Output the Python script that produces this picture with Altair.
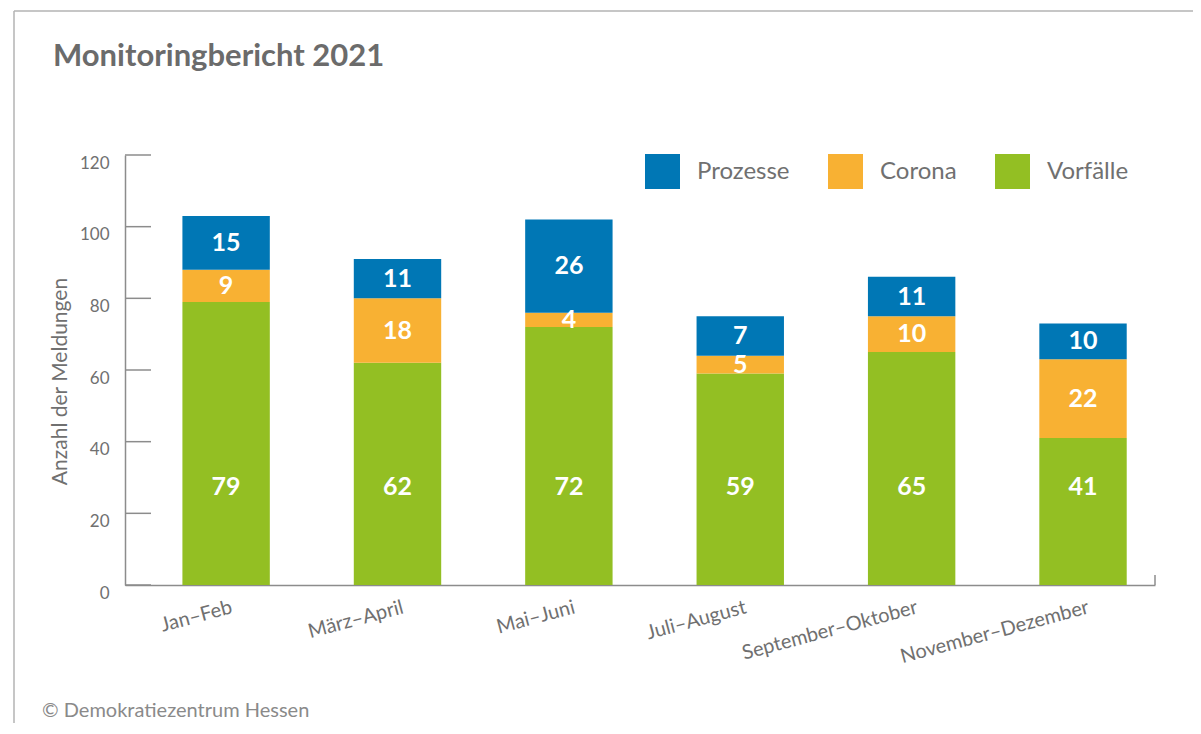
import altair as alt
import pandas as pd

# ---- data ----
periods = ["Jan–Feb", "März–April", "Mai–Juni", "Juli–August",
           "September–Oktober", "November–Dezember"]
vorfaelle = [79, 62, 72, 59, 65, 41]
corona = [9, 18, 4, 5, 10, 22]
prozesse = [15, 11, 26, 11, 11, 10]          # heights as drawn
prozesse_labels = ["15", "11", "26", "7", "11", "10"]  # numbers printed on the bars
vorfaelle_labels = [str(v) for v in vorfaelle]
corona_labels = [str(v) for v in corona]

legend_order = ["Prozesse", "Corona", "Vorfälle"]
colors = ["#0077b5", "#f8b133", "#93bf23"]
y_ticks = [0, 20, 40, 60, 80, 100, 120]

rows = []
for i, p in enumerate(periods):
    rows.append({"period": p, "category": "Vorfälle", "value": vorfaelle[i], "label": vorfaelle_labels[i], "order": 0})
    rows.append({"period": p, "category": "Corona", "value": corona[i], "label": corona_labels[i], "order": 1})
    rows.append({"period": p, "category": "Prozesse", "value": prozesse[i], "label": prozesse_labels[i], "order": 2})
df = pd.DataFrame(rows)
ticks_df = pd.DataFrame({"t": y_ticks})
one = pd.DataFrame({"k": [0]})

FONT = "Lato"
GRAY = "#707070"
AXIS_GRAY = "#8c8c8c"
W, H = 1030, 430

xscale = alt.Scale(paddingInner=0.49, paddingOuter=0.25, align=0.67)
xaxis = alt.Axis(title=None, ticks=False, domainColor=AXIS_GRAY, domainWidth=1.5,
                 labelAngle=-15, labelAlign="right", labelBaseline="top",
                 labelPadding=12, labelFontSize=20, labelColor=GRAY, labelFont=FONT,
                 labelLimit=400, labelOffset=3)
yscale = alt.Scale(domain=[0, 120], nice=False)
yaxis = alt.Axis(title="Anzahl der Meldungen", values=y_ticks, ticks=False, grid=False,
                 domainColor=AXIS_GRAY, domainWidth=1.5,
                 labelPadding=16, labelFontSize=17, labelColor=GRAY, labelFont=FONT,
                 labelOffset=8,
                 titleFontSize=21, titleFontWeight="normal", titleColor=GRAY, titleFont=FONT,
                 titleX=-65, titleY=226, titleAngle=270, titleAlign="center",
                 titleBaseline="middle")

x_enc = alt.X("period:N", sort=periods, scale=xscale, axis=xaxis)

bars = alt.Chart(df).mark_bar().encode(
    x=x_enc,
    y=alt.Y("value:Q", stack="zero", scale=yscale, axis=yaxis),
    color=alt.Color("category:N",
                    scale=alt.Scale(domain=legend_order, range=colors),
                    legend=alt.Legend(orient="none", legendX=520, legendY=-1,
                                      direction="horizontal", title=None,
                                      symbolType="square", symbolSize=1225,
                                      symbolStrokeWidth=0, symbolOpacity=1,
                                      labelFontSize=24, labelColor=GRAY, labelFont=FONT,
                                      labelOffset=17, columnPadding=38, padding=0)),
    order=alt.Order("order:Q"),
)

labels = alt.Chart(df).transform_stack(
    stack="value", groupby=["period"], as_=["y0", "y1"],
    sort=[alt.SortField("order", order="ascending")]
).transform_calculate(
    mid="datum.category == 'Vorfälle' ? 27.3 : (datum.y0 + datum.y1) / 2"
).mark_text(color="white", fontSize=25, fontWeight="bold", font=FONT,
            baseline="middle", align="center").encode(
    x=x_enc,
    y=alt.Y("mid:Q", scale=yscale, axis=yaxis),
    text="label:N",
)

inner_ticks = alt.Chart(ticks_df).mark_rule(color=AXIS_GRAY, strokeWidth=1.5).encode(
    y=alt.Y("t:Q", scale=yscale, axis=yaxis),
    x=alt.value(0), x2=alt.value(26),
)

end_tick = alt.Chart(one).mark_rule(color=AXIS_GRAY, strokeWidth=1.5).encode(
    x=alt.value(W), y=alt.value(H - 10), y2=alt.value(H),
)

frame_left = alt.Chart(one).mark_rule(color="#b3b3b3", strokeWidth=1.5).encode(
    x=alt.value(-111), y=alt.value(-144), y2=alt.value(H + 140),
)
frame_top = alt.Chart(one).mark_rule(color="#b3b3b3", strokeWidth=1.5).encode(
    x=alt.value(-111), x2=alt.value(W + 40), y=alt.value(-144),
)

title = alt.Chart(one).mark_text(text="Monitoringbericht 2021", font=FONT, fontSize=31,
                                 fontWeight="bold", color="#6b6b6b", align="left",
                                 baseline="alphabetic").encode(
    x=alt.value(-72), y=alt.value(-89),
)

credit = alt.Chart(one).mark_text(text="© Demokratiezentrum Hessen", font=FONT, fontSize=20,
                                  color="#8a8a8a", align="left",
                                  baseline="alphabetic").encode(
    x=alt.value(-83), y=alt.value(562),
)

chart = alt.layer(frame_left, frame_top, bars, inner_ticks, end_tick, labels, title, credit).properties(
    width=W, height=H,
    autosize=alt.AutoSizeParams(type="none"),
    padding={"left": 117, "top": 147, "right": 38, "bottom": 138},
).configure(font=FONT).configure_view(stroke=None, strokeWidth=0)

chart.save("out.html", embed_options={"renderer": "svg", "actions": False})
